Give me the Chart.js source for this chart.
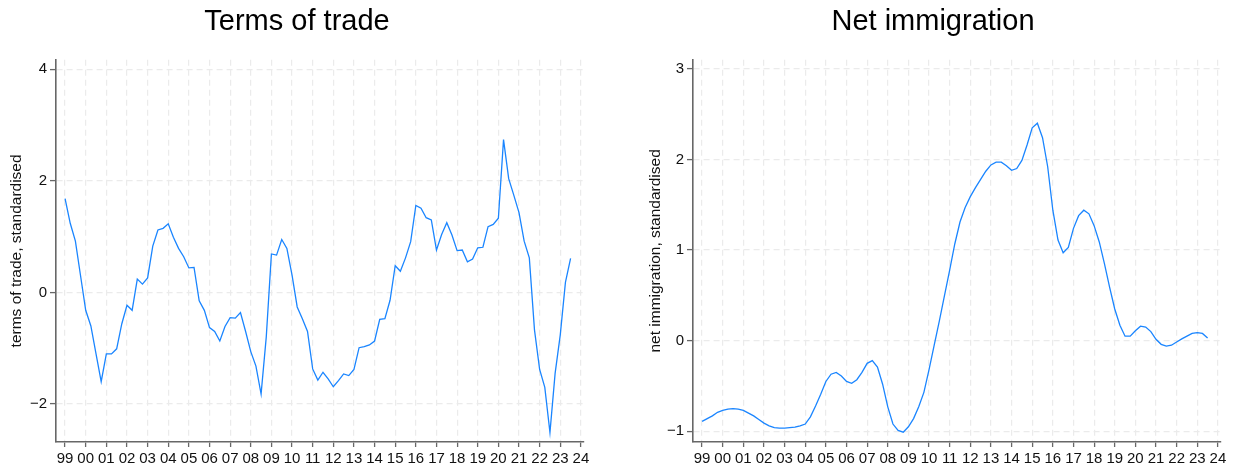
<!DOCTYPE html>
<html>
<head>
<meta charset="utf-8">
<script src="https://cdn.jsdelivr.net/npm/chart.js@4.4.1/dist/chart.umd.min.js"></script>
<style>
  html, body { margin: 0; padding: 0; background: #ffffff; }
  #wrap { position: relative; width: 1239px; height: 466px; overflow: hidden; }
  canvas { position: absolute; top: 0; }
  #totCanvas { left: 0; }
  #immCanvas { left: 620px; }
</style>
</head>
<body>
<div id="wrap">
  <canvas id="totCanvas" width="620" height="466"></canvas>
  <canvas id="immCanvas" width="619" height="466"></canvas>
</div>
<script>
// Quarterly series, first observation 1999Q1, last 2023Q3
const firstYear = 1999;
const quartersPerYear = 4;

// Terms of trade, standardised
const termsOfTrade = [
  1.68, 1.24, 0.92, 0.30, -0.32, -0.60, -1.10, -1.60,
  -1.10, -1.10, -1.01, -0.56, -0.23, -0.32, 0.24, 0.15,
  0.26, 0.83, 1.12, 1.15, 1.23, 0.99, 0.79, 0.64,
  0.44, 0.45, -0.15, -0.32, -0.63, -0.70, -0.87, -0.61,
  -0.45, -0.46, -0.36, -0.70, -1.06, -1.32, -1.82, -0.80,
  0.69, 0.67, 0.95, 0.79, 0.31, -0.26, -0.47, -0.70,
  -1.37, -1.57, -1.43, -1.55, -1.69, -1.58, -1.46, -1.49,
  -1.38, -0.99, -0.97, -0.94, -0.87, -0.48, -0.47, -0.14,
  0.48, 0.38, 0.62, 0.91, 1.56, 1.51, 1.34, 1.30,
  0.76, 1.04, 1.25, 1.03, 0.75, 0.76, 0.55, 0.60,
  0.80, 0.81, 1.18, 1.22, 1.33, 2.74, 2.04, 1.74,
  1.43, 0.92, 0.62, -0.67, -1.38, -1.70, -2.51, -1.45,
  -0.76, 0.18, 0.61
];

// Net immigration, standardised
const netImmigration = [
  -0.89, -0.86, -0.83, -0.79, -0.77, -0.755, -0.75, -0.755,
  -0.77, -0.80, -0.83, -0.87, -0.91, -0.94, -0.96, -0.965,
  -0.965, -0.96, -0.955, -0.94, -0.92, -0.84, -0.72, -0.59,
  -0.45, -0.37, -0.35, -0.39, -0.45, -0.47, -0.43, -0.35,
  -0.25, -0.22, -0.29, -0.48, -0.73, -0.92, -0.99, -1.01,
  -0.95, -0.86, -0.73, -0.57, -0.32, -0.05, 0.22, 0.50,
  0.78, 1.07, 1.31, 1.47, 1.59, 1.69, 1.78, 1.87,
  1.94, 1.97, 1.97, 1.93, 1.88, 1.90, 1.99, 2.16,
  2.35, 2.40, 2.24, 1.92, 1.44, 1.11, 0.97, 1.03,
  1.24, 1.38, 1.44, 1.40, 1.27, 1.09, 0.85, 0.59,
  0.35, 0.17, 0.05, 0.05, 0.11, 0.16, 0.15, 0.10,
  0.015, -0.04, -0.06, -0.05, -0.015, 0.02, 0.05, 0.08,
  0.09, 0.08, 0.03
];

// Axis ticks
const yearTicks = [1999, 2000, 2001, 2002, 2003, 2004, 2005, 2006, 2007, 2008, 2009, 2010, 2011,
                   2012, 2013, 2014, 2015, 2016, 2017, 2018, 2019, 2020, 2021, 2022, 2023, 2024];
const totTicks = [-2, 0, 2, 4];
const immTicks = [-1, 0, 1, 2, 3];

const FONT = '"Liberation Sans", Arial, Helvetica, sans-serif';
const LINE_BLUE = '#1a85ff';
const GRID = '#ebebeb';
const AXIS = '#676767';

function toPoints(values) {
  return values.map((v, i) => ({ x: firstYear + i / quartersPerYear, y: v }));
}

function yearLabel(v) {
  return String(Math.round(v) % 100).padStart(2, '0');
}

function buildChart(canvasId, cfg) {
  const ctx = document.getElementById(canvasId).getContext('2d');
  return new Chart(ctx, {
    type: 'line',
    data: {
      datasets: [{
        data: toPoints(cfg.values),
        borderColor: LINE_BLUE,
        borderWidth: 1.3,
        pointRadius: 0,
        tension: 0,
        fill: false
      }]
    },
    options: {
      responsive: false,
      animation: false,
      devicePixelRatio: 1,
      layout: { padding: { left: cfg.padLeft, right: cfg.padRight, top: 0, bottom: 0 } },
      plugins: {
        legend: { display: false },
        tooltip: { enabled: false },
        title: {
          display: true,
          text: cfg.title,
          color: '#000000',
          font: { family: FONT, size: 29, weight: 'normal', lineHeight: 1.2 },
          padding: { top: 5, bottom: 20 }
        }
      },
      scales: {
        x: {
          type: 'linear',
          min: 1998.56,
          max: 2024.15,
          afterBuildTicks: (s) => { s.ticks = yearTicks.map(v => ({ value: v })); },
          afterFit: (s) => { s.height = 24; },
          ticks: {
            autoSkip: false,
            maxRotation: 0,
            padding: 3,
            color: '#111111',
            font: { family: FONT, size: 15 },
            callback: (v) => yearLabel(v)
          },
          grid: {
            color: GRID,
            lineWidth: 1.2,
            tickLength: 5,
            tickColor: AXIS,
            tickWidth: 1.3,
            tickBorderDash: []
          },
          border: { display: true, color: AXIS, width: 1.6, dash: [6, 4] }
        },
        y: {
          type: 'linear',
          min: cfg.yMin,
          max: cfg.yMax,
          afterBuildTicks: (s) => { s.ticks = cfg.yTicks.map(v => ({ value: v })); },
          afterFit: (s) => { s.width = cfg.yAxisWidth; },
          ticks: {
            padding: 3,
            color: '#111111',
            font: { family: FONT, size: 15 },
            callback: (v) => (v < 0 ? '\u2212' + Math.abs(v) : String(v))
          },
          grid: {
            color: GRID,
            lineWidth: 1.2,
            tickLength: 6,
            tickColor: AXIS,
            tickWidth: 1.3,
            tickBorderDash: []
          },
          border: { display: true, color: AXIS, width: 1.6, dash: [6, 4] },
          title: {
            display: true,
            text: cfg.yTitle,
            color: '#111111',
            font: { family: FONT, size: 15.5, lineHeight: 1 },
            padding: { top: cfg.yTitlePad, bottom: 0 }
          }
        }
      }
    }
  });
}

buildChart('totCanvas', {
  title: 'Terms of trade',
  yTitle: 'terms of trade, standardised',
  values: termsOfTrade,
  yMin: -2.68, yMax: 4.17,
  yTicks: totTicks,
  padLeft: 10, padRight: 36,
  yAxisWidth: 46,
  yTitlePad: -1
});

buildChart('immCanvas', {
  title: 'Net immigration',
  yTitle: 'net immigration, standardised',
  values: netImmigration,
  yMin: -1.118, yMax: 3.10,
  yTicks: immTicks,
  padLeft: 25, padRight: 18,
  yAxisWidth: 48,
  yTitlePad: 3
});
</script>
</body>
</html>
